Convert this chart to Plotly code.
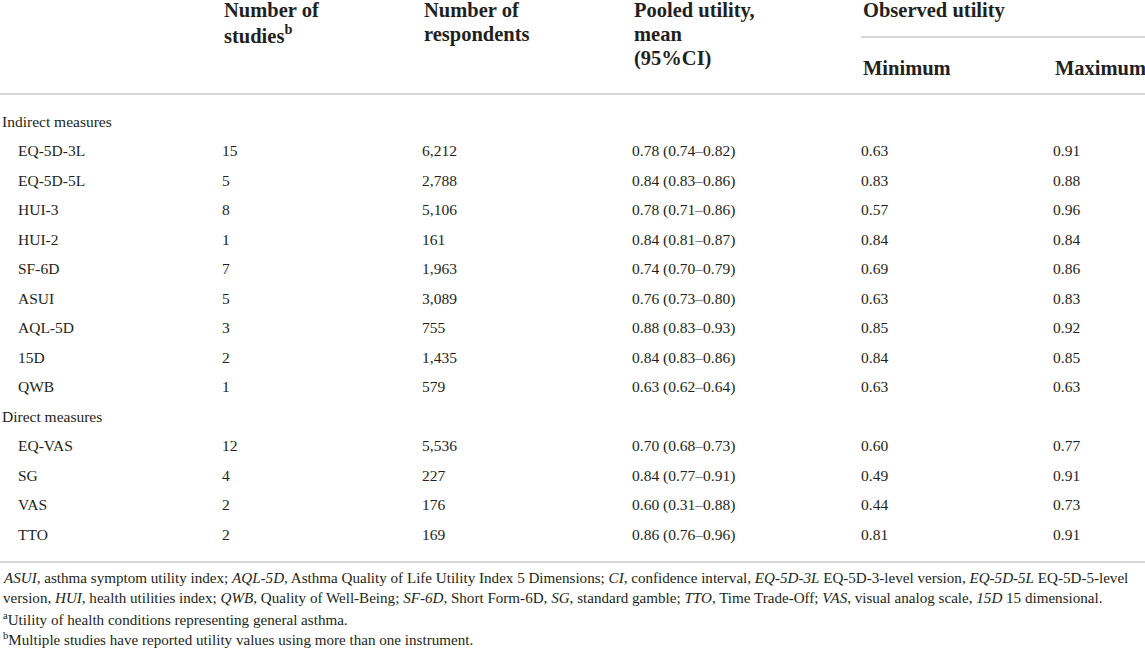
import plotly.graph_objects as go

W, H = 1145, 652

# table content
groups = ["Indirect measures", "Direct measures"]
indirect = ["EQ-5D-3L", "EQ-5D-5L", "HUI-3", "HUI-2", "SF-6D", "ASUI", "AQL-5D", "15D", "QWB"]
direct = ["EQ-VAS", "SG", "VAS", "TTO"]
studies = [15, 5, 8, 1, 7, 5, 3, 2, 1, 12, 4, 2, 2]
respondents = [6212, 2788, 5106, 161, 1963, 3089, 755, 1435, 579, 5536, 227, 176, 169]
pooled_mean = [0.78, 0.84, 0.78, 0.84, 0.74, 0.76, 0.88, 0.84, 0.63, 0.70, 0.84, 0.60, 0.86]
ci_low = [0.74, 0.83, 0.71, 0.81, 0.70, 0.73, 0.83, 0.83, 0.62, 0.68, 0.77, 0.31, 0.76]
ci_high = [0.82, 0.86, 0.86, 0.87, 0.79, 0.80, 0.93, 0.86, 0.64, 0.73, 0.91, 0.88, 0.96]
obs_min = [0.63, 0.83, 0.57, 0.84, 0.69, 0.63, 0.85, 0.84, 0.63, 0.60, 0.49, 0.44, 0.81]
obs_max = [0.91, 0.88, 0.96, 0.84, 0.86, 0.83, 0.92, 0.85, 0.63, 0.77, 0.91, 0.73, 0.91]

footnotes = [
    "<i>ASUI</i>, asthma symptom utility index; <i>AQL-5D</i>, Asthma Quality of Life Utility Index 5 Dimensions; "
    "<i>CI</i>, confidence interval, <i>EQ-5D-3L</i> EQ-5D-3-level version, <i>EQ-5D-5L</i> EQ-5D-5-level",
    "version, <i>HUI</i>, health utilities index; <i>QWB</i>, Quality of Well-Being; <i>SF-6D</i>, Short Form-6D, "
    "<i>SG</i>, standard gamble; <i>TTO</i>, Time Trade-Off; <i>VAS</i>, visual analog scale, <i>15D</i> 15 dimensional.",
    "<sup>a</sup>Utility of health conditions representing general asthma.",
    "<sup>b</sup>Multiple studies have reported utility values using more than one instrument.",
]

FONT = "Liberation Serif"
INK = "#231f20"
RULE = "#c9c9c9"
ROW0, ROW_H = 122.7, 29.5
COLX = {"studies": 222, "resp": 422, "pooled": 632, "min": 861, "max": 1053}

# build row order: group header then its instruments
rows = [(groups[0], True)] + [(n, False) for n in indirect] + [(groups[1], True)] + [(n, False) for n in direct]
row_y = [ROW0 + ROW_H * k for k in range(len(rows))]
label_x = [2 if g else 18 for _, g in rows]
inst_y = [y for y, (_, g) in zip(row_y, rows) if not g]

fig = go.Figure()

def text_col(x, y, txt, size=15.5):
    fig.add_trace(go.Scatter(
        x=x, y=y, text=txt, mode="text", textposition="middle right",
        textfont=dict(family=FONT, size=size, color=INK),
        hoverinfo="skip", showlegend=False, cliponaxis=False))

text_col(label_x, row_y, [r[0] for r in rows])
text_col([COLX["studies"]] * len(inst_y), inst_y, [str(v) for v in studies])
text_col([COLX["resp"]] * len(inst_y), inst_y, [f"{v:,}" for v in respondents])
text_col([COLX["pooled"]] * len(inst_y), inst_y,
         [f"{m:.2f} ({lo:.2f}\u2013{hi:.2f})" for m, lo, hi in zip(pooled_mean, ci_low, ci_high)])
text_col([COLX["min"]] * len(inst_y), inst_y, [f"{v:.2f}" for v in obs_min])
text_col([COLX["max"]] * len(inst_y), inst_y, [f"{v:.2f}" for v in obs_max])

# header
hdr = dict(family=FONT, size=20.5, color=INK)
headers = [
    (COLX["studies"], 10, "<b>Number of</b>"),
    (COLX["studies"], 34, "<b>studies<sup>b</sup></b>"),
    (COLX["resp"], 10, "<b>Number of</b>"),
    (COLX["resp"], 34, "<b>respondents</b>"),
    (COLX["pooled"], 10, "<b>Pooled utility,</b>"),
    (COLX["pooled"], 34, "<b>mean</b>"),
    (COLX["pooled"], 58, "<b>(95%CI)</b>"),
    (COLX["min"], 10, "<b>Observed utility</b>"),
    (COLX["min"], 68, "<b>Minimum</b>"),
    (COLX["max"], 68, "<b>Maximum</b>"),
]
for x, y, t in headers:
    fig.add_annotation(x=x, y=y, text=t, xref="x", yref="y", xanchor="left", yanchor="middle",
                       showarrow=False, font=hdr)

# footnotes
for k, t in enumerate(footnotes):
    fig.add_annotation(x=1, y=578 + 20.3 * k, text=t, xref="x", yref="y", xanchor="left",
                       yanchor="middle", showarrow=False,
                       font=dict(family=FONT, size=15.1, color=INK))

# rules
for x0, x1, y in [(COLX["min"], W, 37), (0, W, 94), (0, W, 562)]:
    fig.add_shape(type="line", x0=x0, x1=x1, y0=y, y1=y, xref="x", yref="y",
                  line=dict(color=RULE, width=1.5))

fig.update_xaxes(range=[0, W], visible=False)
fig.update_yaxes(range=[H, 0], visible=False)
fig.update_layout(width=W, height=H, margin=dict(l=0, r=0, t=0, b=0),
                  paper_bgcolor="white", plot_bgcolor="white")

fig.write_html("out.html", config={"displayModeBar": False},
               post_script="document.body.style.margin='0';")
